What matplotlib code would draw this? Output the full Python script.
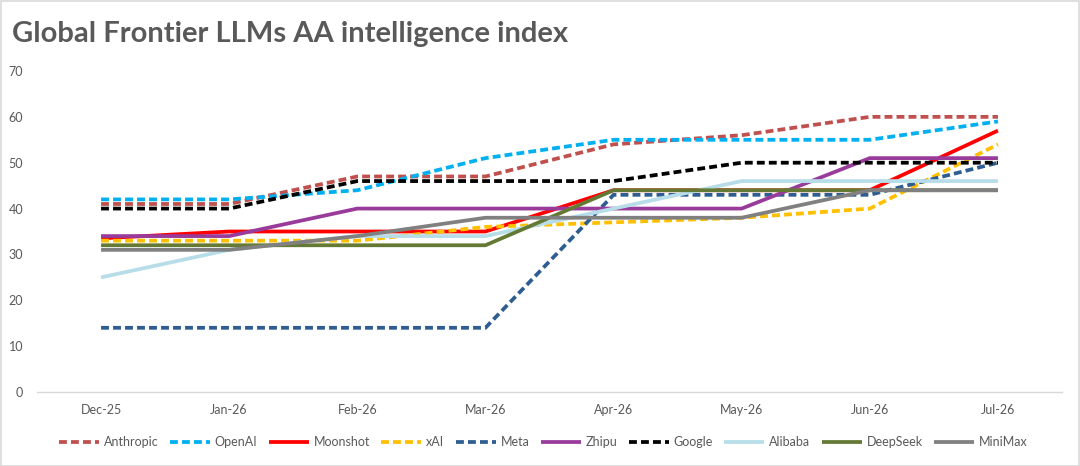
import matplotlib
matplotlib.use("Agg")
import matplotlib.pyplot as plt
from matplotlib.patches import Rectangle

months = ["Dec-25", "Jan-26", "Feb-26", "Mar-26", "Apr-26", "May-26", "Jun-26", "Jul-26"]

anthropic = [41, 41, 47, 47, 54, 56, 60, 60]
openai = [42, 42, 44, 51, 55, 55, 55, 59]
moonshot = [33.5, 35, 35, 35, 44, 44, 44, 57]
xai = [33, 33, 33, 36, 37, 38, 40, 54]
meta = [14, 14, 14, 14, 43, 43, 43, 50]
zhipu = [34, 34, 40, 40, 40, 40, 51, 51]
google = [40, 40, 46, 46, 46, 50, 50, 50]
alibaba = [25, 31, 34, 34, 40, 46, 46, 46]
deepseek = [32, 32, 32, 32, 44, 44, 44, 44]
minimax = [31, 31, 34, 38, 38, 38, 44, 44]

series = [
    ("Anthropic", anthropic, "#C0504D", True),
    ("OpenAI", openai, "#00B0F0", True),
    ("Moonshot", moonshot, "#FF0000", False),
    ("xAI", xai, "#FFC000", True),
    ("Meta", meta, "#2E5E91", True),
    ("Zhipu", zhipu, "#983B9B", False),
    ("Google", google, "#000000", True),
    ("Alibaba", alibaba, "#B7DDE8", False),
    ("DeepSeek", deepseek, "#647A34", False),
    ("MiniMax", minimax, "#808080", False),
]

plt.rcParams["font.family"] = ["Lato", "DejaVu Sans"]
TXT = "#595959"

fig = plt.figure(figsize=(10.8, 4.66), dpi=100)
fig.patch.set_facecolor("white")
ax = fig.add_axes([37 / 1080, (466 - 392) / 466, 1025 / 1080, 321 / 466])

x = list(range(len(months)))
for name, vals, color, dashed in series:
    if dashed:
        ax.plot(x, vals, color=color, lw=2.7, linestyle=(0, (2.1, 1.1)),
                dash_capstyle="butt", label=name, solid_joinstyle="round")
    else:
        ax.plot(x, vals, color=color, lw=2.7, label=name,
                solid_capstyle="butt", solid_joinstyle="round")

ax.set_xlim(-0.5, len(months) - 0.5)
ax.set_ylim(0, 70)
ax.set_yticks(range(0, 71, 10))
ax.set_xticks(x)
ax.set_xticklabels(months)
for s in ["top", "right", "left"]:
    ax.spines[s].set_visible(False)
ax.spines["bottom"].set_color("#D9D9D9")
ax.spines["bottom"].set_linewidth(1.0)
ax.tick_params(axis="y", length=0, pad=10, labelsize=9, labelcolor=TXT)
ax.tick_params(axis="x", length=0, pad=9, labelsize=9, labelcolor=TXT)
ax.set_facecolor("none")

fig.text(12 / 1080, 1 - 34 / 466, "Global Frontier LLMs AA intelligence index",
         fontsize=21, fontweight="bold", color=TXT, va="center", ha="left")

fig.legend(loc="center", bbox_to_anchor=(0.503, (466 - 442) / 466), ncol=10,
           frameon=False, fontsize=9, labelcolor=TXT, handlelength=3.2,
           handletextpad=0.4, columnspacing=0.9)

fig.add_artist(Rectangle((0.5 / 1080, 0.5 / 466), 1 - 1.5 / 1080, 1 - 1.5 / 466,
                         transform=fig.transFigure, fill=False,
                         edgecolor="#D9D9D9", lw=1.2))

fig.savefig("out.png", dpi=100)
